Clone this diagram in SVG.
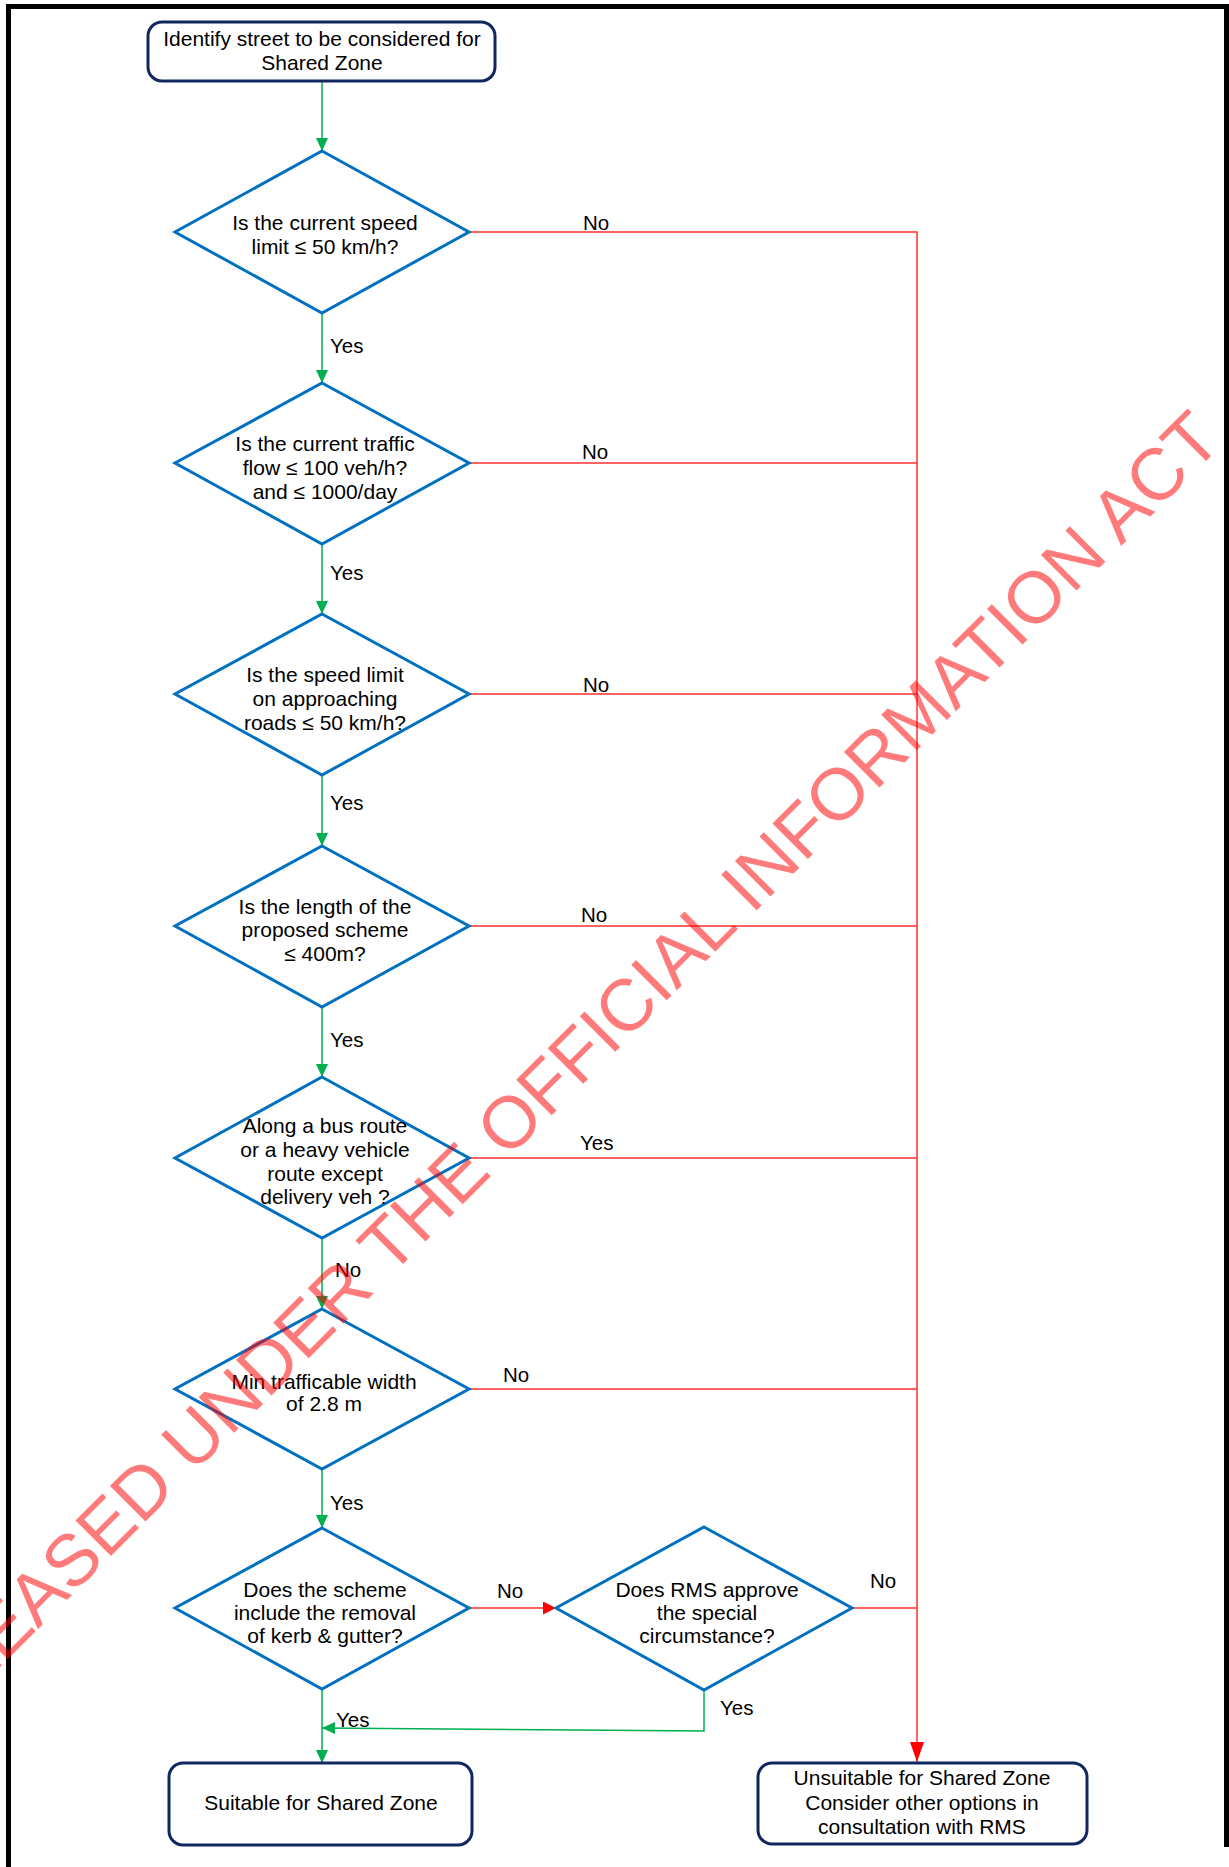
<svg xmlns="http://www.w3.org/2000/svg" width="1229" height="1867" viewBox="0 0 1229 1867">
<style>
.t{font-family:"Liberation Sans",Arial,sans-serif;font-size:21px;fill:#000;text-anchor:middle}
.l{font-family:"Liberation Sans",Arial,sans-serif;font-size:20.5px;fill:#000}
.box{fill:#fff;stroke:#10285f;stroke-width:3}
.dia{fill:#fff;stroke:#0070c0;stroke-width:3;stroke-linejoin:miter}
.g{fill:none;stroke:#00b050;stroke-width:1.5}
.r{fill:none;stroke:#ff3030;stroke-width:1.5}
.wm{font-family:"Liberation Sans",Arial,sans-serif;font-size:73px;fill:#ff0000;fill-opacity:0.52}
</style>
<defs>
<marker id="ga" markerUnits="userSpaceOnUse" viewBox="0 0 13 12" markerWidth="13" markerHeight="12" refX="13" refY="6" orient="auto"><path d="M0,0 L13,6 L0,12 z" fill="#00b050"/></marker>
<marker id="ra" markerUnits="userSpaceOnUse" viewBox="0 0 13 13" markerWidth="13" markerHeight="13" refX="13" refY="6.5" orient="auto"><path d="M0,0 L13,6.5 L0,13 z" fill="#ff0000"/></marker>
<marker id="rb" markerUnits="userSpaceOnUse" viewBox="0 0 20 14" markerWidth="20" markerHeight="14" refX="20" refY="7" orient="auto"><path d="M0,0 L20,7 L0,14 z" fill="#ff0000"/></marker>
</defs>
<rect x="0" y="0" width="1229" height="1867" fill="#fff"/>
<path d="M8.5,1867 V6.5 H1226.5 V1847" fill="none" stroke="#000" stroke-width="5"/>

<g id="connectors">
<path class="g" d="M322,81 V151" marker-end="url(#ga)"/>
<path class="g" d="M322,313 V383" marker-end="url(#ga)"/>
<path class="g" d="M322,544 V614" marker-end="url(#ga)"/>
<path class="g" d="M322,775 V846" marker-end="url(#ga)"/>
<path class="g" d="M322,1007 V1077" marker-end="url(#ga)"/>
<path class="g" d="M322,1238 V1309" marker-end="url(#ga)"/>
<path class="g" d="M322,1469 V1528" marker-end="url(#ga)"/>
<path class="g" d="M322,1689 V1763" marker-end="url(#ga)"/>
<path class="g" d="M704,1690 V1731 L322,1728" marker-end="url(#ga)"/>
<path class="r" d="M469,232 H917 V1762" marker-end="url(#rb)"/>
<path class="r" d="M469,463 H917"/>
<path class="r" d="M469,694 H917"/>
<path class="r" d="M469,926 H917"/>
<path class="r" d="M469,1158 H917"/>
<path class="r" d="M469,1389 H917"/>
<path class="r" d="M852,1608 H917"/>
<path class="r" d="M469,1608 H556" marker-end="url(#ra)"/>
<text class="l" x="583" y="230">No</text>
<text class="l" x="330" y="353">Yes</text>
<text class="l" x="582" y="459">No</text>
<text class="l" x="330" y="580">Yes</text>
<text class="l" x="583" y="692">No</text>
<text class="l" x="330" y="810">Yes</text>
<text class="l" x="581" y="922">No</text>
<text class="l" x="330" y="1047">Yes</text>
<text class="l" x="580" y="1150">Yes</text>
<text class="l" x="335" y="1277">No</text>
<text class="l" x="503" y="1382">No</text>
<text class="l" x="330" y="1510">Yes</text>
<text class="l" x="497" y="1598">No</text>
<text class="l" x="870" y="1588">No</text>
<text class="l" x="720" y="1715">Yes</text>
<text class="l" x="336" y="1727">Yes</text>
</g>

<g id="start">
<rect class="box" x="148" y="22" width="347" height="59" rx="14" ry="14"/>
<text class="t" x="322" y="46">Identify street to be considered for</text>
<text class="t" x="322" y="70">Shared Zone</text>
</g>

<g id="d1">
<polygon class="dia" points="322,151 469,232 322,313 175,232"/>
<text class="t" x="325" y="230">Is the current speed</text>
<text class="t" x="325" y="254">limit ≤ 50 km/h?</text>
</g>

<g id="d2">
<polygon class="dia" points="322,383 469,463 322,544 175,463"/>
<text class="t" x="325" y="451">Is the current traffic</text>
<text class="t" x="325" y="475">flow ≤ 100 veh/h?</text>
<text class="t" x="325" y="499">and ≤ 1000/day</text>
</g>

<g id="d3">
<polygon class="dia" points="322,614 469,694 322,775 175,694"/>
<text class="t" x="325" y="682">Is the speed limit</text>
<text class="t" x="325" y="706">on approaching</text>
<text class="t" x="325" y="730">roads ≤ 50 km/h?</text>
</g>

<g id="d4">
<polygon class="dia" points="322,846 469,926 322,1007 175,926"/>
<text class="t" x="325" y="914">Is the length of the</text>
<text class="t" x="325" y="937">proposed scheme</text>
<text class="t" x="325" y="961">≤ 400m?</text>
</g>

<g id="d5">
<polygon class="dia" points="322,1077 469,1158 322,1238 175,1158"/>
<text class="t" x="325" y="1133">Along a bus route</text>
<text class="t" x="325" y="1157">or a heavy vehicle</text>
<text class="t" x="325" y="1181">route except</text>
<text class="t" x="325" y="1204">delivery veh ?</text>
</g>

<g id="d6">
<polygon class="dia" points="322,1309 469,1389 322,1469 175,1389"/>
<text class="t" x="324" y="1389">Min trafficable width</text>
<text class="t" x="324" y="1411">of 2.8 m</text>
</g>

<g id="d7">
<polygon class="dia" points="322,1528 469,1608 322,1689 175,1608"/>
<text class="t" x="325" y="1597">Does the scheme</text>
<text class="t" x="325" y="1620">include the removal</text>
<text class="t" x="325" y="1643">of kerb &amp; gutter?</text>
</g>

<g id="d8">
<polygon class="dia" points="704,1527 852,1608 704,1690 556,1608"/>
<text class="t" x="707" y="1597">Does RMS approve</text>
<text class="t" x="707" y="1620">the special</text>
<text class="t" x="707" y="1643">circumstance?</text>
</g>

<g id="suitable">
<rect class="box" x="169" y="1763" width="303" height="82" rx="14" ry="14"/>
<text class="t" x="321" y="1810">Suitable for Shared Zone</text>
</g>

<g id="unsuitable">
<rect class="box" x="758" y="1763" width="329" height="81" rx="14" ry="14"/>
<text class="t" x="922" y="1785">Unsuitable for Shared Zone</text>
<text class="t" x="922" y="1810">Consider other options in</text>
<text class="t" x="922" y="1834">consultation with RMS</text>
</g>

<text class="wm" x="-97" y="1764" transform="rotate(-45 -97 1764)">RELEASED UNDER THE OFFICIAL INFORMATION ACT</text>
</svg>
